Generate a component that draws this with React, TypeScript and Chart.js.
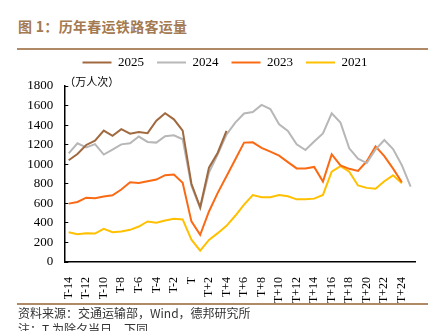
import React, { useEffect, useRef } from 'react';
import { Chart, registerables } from 'chart.js';

Chart.register(...registerables);

const categories = [
  'T-14', 'T-13', 'T-12', 'T-11', 'T-10', 'T-9', 'T-8', 'T-7', 'T-6', 'T-5', 'T-4', 'T-3', 'T-2', 'T-1',
  'T',
  'T+1', 'T+2', 'T+3', 'T+4', 'T+5', 'T+6', 'T+7', 'T+8', 'T+9', 'T+10', 'T+11', 'T+12', 'T+13', 'T+14',
  'T+15', 'T+16', 'T+17', 'T+18', 'T+19', 'T+20', 'T+21', 'T+22', 'T+23', 'T+24', 'T+25',
];

const s2025 = [
  1040, 1105, 1197, 1241, 1344, 1291, 1358, 1313, 1330, 1318, 1445, 1522, 1459, 1343,
  800,
  560, 964, 1118, 1340,
];

const s2024 = [
  1110, 1214, 1172, 1205, 1099, 1150, 1203, 1215, 1283, 1228, 1221, 1286, 1296, 1255,
  780,
  550, 915, 1100, 1303, 1426, 1519, 1534, 1606, 1564, 1409, 1341, 1203, 1145, 1233,
  1315, 1521, 1426, 1163, 1056, 1012, 1150, 1247, 1155, 990, 772,
];

const s2023 = [
  597, 614, 658, 651, 669, 682, 741, 816, 809, 826, 843, 888, 895, 810,
  415,
  278, 517, 707, 877, 1049, 1221, 1224, 1168, 1128, 1087, 1022, 957, 957, 972,
  822, 1101, 988, 953, 932, 1030, 1183, 1082, 955, 816, null,
];

const s2021 = [
  305, 285, 295, 291, 339, 305, 312, 329, 363, 415, 401, 425, 442, 435,
  228,
  116, 226, 295, 370, 473, 586, 685, 663, 663, 685, 672, 641, 641, 648,
  686, 925, 980, 924, 783, 758, 749, 826, 886, 805, null,
];

const seriesNames = ['2025', '2024', '2023', '2021'];
const seriesColors = ['#a0693f', '#b7b7b7', '#fa6a14', '#ffc000'];
const seriesData = [s2025, s2024, s2023, s2021];

const yTicks = { min: 0, max: 1800, step: 200 };

const legendShift = {
  id: 'legendShift',
  afterLayout(chart: any) {
    const l = chart.legend;
    if (l) {
      l.left = 35;
      l.width = l.right - l.left;
    }
  },
};

export default function App() {
  const ref = useRef<HTMLCanvasElement>(null);

  useEffect(() => {
    const canvas = ref.current;
    if (!canvas) return;
    const chart = new Chart(canvas, {
      type: 'line',
      data: {
        labels: categories,
        datasets: seriesNames.map((name, i) => ({
          label: name,
          data: seriesData[i],
          borderColor: seriesColors[i],
          backgroundColor: seriesColors[i],
          borderWidth: 2,
          pointRadius: 0,
          pointHoverRadius: 0,
          tension: 0,
          fill: false,
          spanGaps: false,
        })),
      },
      plugins: [legendShift],
      options: {
        responsive: false,
        animation: false,
        layout: { padding: { left: 0, right: 26, top: 0, bottom: 0 } },
        plugins: {
          tooltip: { enabled: false },
          legend: {
            display: true,
            position: 'top',
            labels: {
              boxWidth: 29,
              boxHeight: 2,
              padding: 13,
              color: '#000',
              font: { family: '"Liberation Serif"', size: 13 },
              generateLabels: (c: any) =>
                Chart.defaults.plugins.legend.labels
                  .generateLabels(c)
                  .map((l: any) => ({ ...l, lineWidth: 0 })),
            },
          },
          title: {
            display: true,
            text: '（万人次）',
            position: 'top',
            align: 'start',
            fullSize: false,
            weight: 500,
            color: '#000',
            font: { family: '"Noto Sans CJK SC"', size: 11, lineHeight: 1, weight: 'normal' },
            padding: { top: -3, bottom: -1 },
          },
        },
        scales: {
          x: {
            type: 'category',
            offset: true,
            grid: { display: false },
            border: { display: true, color: '#000', width: 1.5 },
            ticks: {
              autoSkip: false,
              maxRotation: 90,
              minRotation: 90,
              padding: 7,
              color: '#000',
              font: { family: '"Liberation Serif"', size: 12 },
              callback: (_v: any, index: number) => (index % 2 === 0 ? categories[index] : ''),
            },
            afterFit: (s: any) => {
              s.height = 42;
            },
          },
          y: {
            min: yTicks.min,
            max: yTicks.max,
            grid: {
              display: true,
              drawOnChartArea: false,
              drawTicks: true,
              tickLength: -4,
              color: '#000',
            },
            border: { display: true, color: '#000', width: 1.5 },
            ticks: {
              stepSize: yTicks.step,
              padding: 15,
              color: '#000',
              font: { family: '"Liberation Serif"', size: 13 },
              callback: (v: any) => String(v),
            },
            afterFit: (s: any) => {
              s.width = 64.3;
            },
          },
        },
      },
    });
    return () => chart.destroy();
  }, []);

  const cjk = '"Noto Sans CJK SC", "Noto Sans", sans-serif';

  return (
    <div
      style={{
        position: 'fixed',
        left: 0,
        top: 0,
        width: 441,
        height: 331,
        background: '#fff',
        overflow: 'hidden',
      }}
    >
      <div
        style={{
          position: 'absolute',
          left: 18,
          top: 16,
          fontFamily: cjk,
          fontWeight: 700,
          fontSize: 14,
          lineHeight: '20px',
          letterSpacing: 0.3,
          color: '#a47a52',
          whiteSpace: 'nowrap',
        }}
      >
        图 1：历年春运铁路客运量
      </div>
      <div style={{ position: 'absolute', left: 17, top: 48, width: 411, height: 2, background: '#b08a66' }} />
      <canvas
        ref={ref}
        width={441}
        height={261}
        style={{ position: 'absolute', left: 0, top: 43, width: 441, height: 261, display: 'block' }}
      />
      <div style={{ position: 'absolute', left: 17, top: 303, width: 411, height: 2, background: '#b08a66' }} />
      <div
        style={{
          position: 'absolute',
          left: 18,
          top: 306,
          fontFamily: cjk,
          fontSize: 12,
          lineHeight: '14px',
          color: '#333',
          whiteSpace: 'nowrap',
        }}
      >
        资料来源：交通运输部，Wind，德邦研究所
      </div>
      <div
        style={{
          position: 'absolute',
          left: 18,
          top: 322,
          fontFamily: cjk,
          fontSize: 12,
          lineHeight: '14px',
          color: '#333',
          whiteSpace: 'nowrap',
        }}
      >
        注：T 为除夕当日，下同
      </div>
    </div>
  );
}
